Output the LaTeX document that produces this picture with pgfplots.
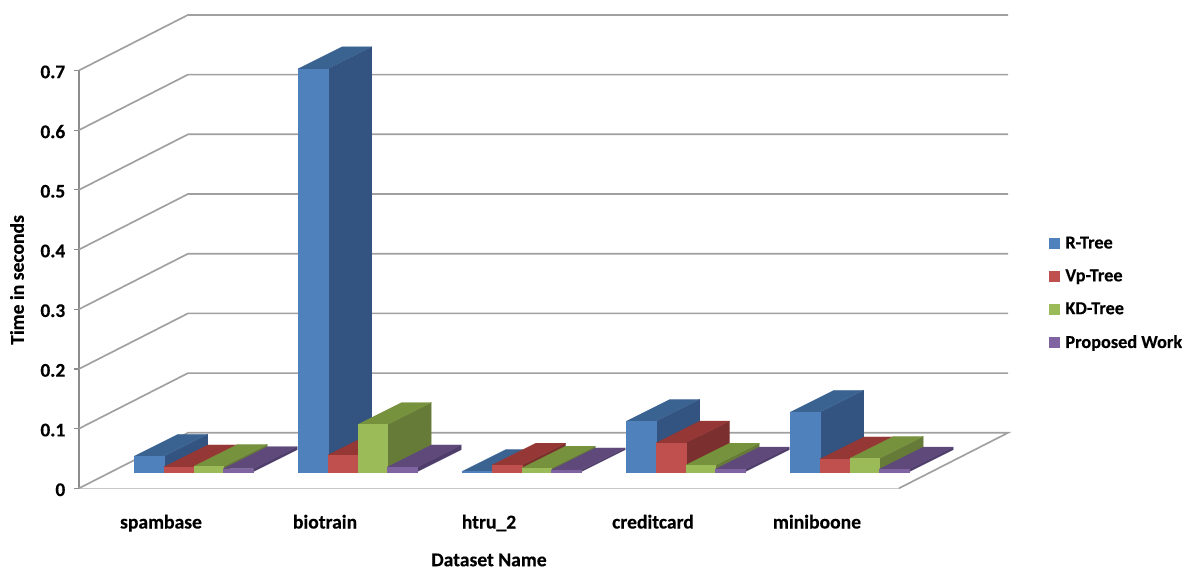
\documentclass[border=0pt]{standalone}
\usepackage{fontspec}
\setmainfont[BoldFeatures={FakeBold=0.35}]{Carlito}
\usepackage{pgfplots}
\pgfplotsset{compat=1.18}

% series colours: front, side and top faces of each bar
\definecolor{blueF}{HTML}{4F81BD}\definecolor{blueS}{HTML}{335380}\definecolor{blueT}{HTML}{3B6391}
\definecolor{redF}{HTML}{C0504D}\definecolor{redS}{HTML}{7B2F2E}\definecolor{redT}{HTML}{953735}
\definecolor{greenF}{HTML}{9BBB59}\definecolor{greenS}{HTML}{677B39}\definecolor{greenT}{HTML}{76923C}
\definecolor{purpleF}{HTML}{8064A2}\definecolor{purpleS}{HTML}{4F3D6B}\definecolor{purpleT}{HTML}{5F497A}
\definecolor{wallgrid}{HTML}{A0A0A0}
\definecolor{floorfront}{HTML}{C8C8C8}
\definecolor{axisgrey}{HTML}{8C8C8C}

% horizontal position is in drawing units, height is in seconds
\def\barwidth{29.8}
\def\depthx{44}
\def\depthy{0.03685}
\def\barbase{0.0278}

% \solidbar{left}{value}{series colour prefix}
\newcommand{\solidbar}[3]{%
  \pgfmathsetmacro\xa{#1}%
  \pgfmathsetmacro\xb{#1+\barwidth}%
  \pgfmathsetmacro\xc{#1+\depthx}%
  \pgfmathsetmacro\xd{#1+\barwidth+\depthx}%
  \pgfmathsetmacro\yb{\barbase}%
  \pgfmathsetmacro\yt{\barbase+#2}%
  \pgfmathsetmacro\ybb{\barbase+\depthy}%
  \pgfmathsetmacro\ytb{\barbase+#2+\depthy}%
  \edef\faces{%
    \noexpand\addplot[forget plot,fill=#3S,draw=#3S,line width=0.1pt] coordinates {(\xb,\yb)(\xd,\ybb)(\xd,\ytb)(\xb,\yt)} --cycle;
    \noexpand\addplot[forget plot,fill=#3T,draw=#3T,line width=0.1pt] coordinates {(\xa,\yt)(\xb,\yt)(\xd,\ytb)(\xc,\ytb)} --cycle;
    \noexpand\addplot[forget plot,fill=#3F,draw=#3F,line width=0.1pt] coordinates {(\xa,\yb)(\xb,\yb)(\xb,\yt)(\xa,\yt)} --cycle;
  }%
  \faces
}

\begin{document}
\begin{tikzpicture}
\path[use as bounding box] (-59.25pt,-60.525pt) rectangle (834.75pt,366.225pt);
\begin{axis}[
  at={(0pt,0pt)}, anchor=south west,
  scale only axis, width=615pt, height=313.4pt,
  xmin=79, xmax=899, ymin=0, ymax=0.7,
  clip=false,
  axis x line=bottom, axis y line=left,
  x axis line style={-, draw=floorfront, line width=1.2pt},
  y axis line style={-, draw=axisgrey, line width=1.4pt},
  xtick={161,325,489,653,817},
  xticklabels={spambase,biotrain,htru\_2,creditcard,miniboone},
  major x tick style={draw=none},
  xticklabel style={font=\fontsize{14.7}{16}\selectfont\bfseries, yshift=-12.5pt},
  ytick={0,0.1,0.2,0.3,0.4,0.5,0.6,0.7},
  yticklabels={0,0.1,0.2,0.3,0.4,0.5,0.6,0.7},
  y tick style={draw=axisgrey, line width=0.9pt},
  major tick length=3.8pt,
  tick align=outside,
  yticklabel style={font=\fontsize{14.5}{16}\selectfont\bfseries, xshift=-3pt, yshift=-1.1pt},
  xlabel={Dataset Name},
  xlabel style={at={(axis cs:489,-0.120)}, anchor=center, font=\fontsize{14.7}{16}\selectfont\bfseries},
  ylabel={Time in seconds},
  ylabel style={at={(axis cs:17,0.349)}, anchor=center, font=\fontsize{14.7}{16}\selectfont\bfseries},
  legend style={at={(axis cs:1049,0.4265)}, anchor=north west, draw=none, fill=none,
    font=\fontsize{13.7}{15}\selectfont\bfseries, row sep=10.25pt, inner sep=0pt},
  legend cell align=left,
  legend image code/.code={\fill[#1] (0pt,-3.7pt) rectangle (7.5pt,3.7pt); \path (9.7pt,0pt);},
]
% walls and floor
\addplot[forget plot,wallgrid,line width=1.25pt] coordinates {(79,0)(188,0.093)(1008,0.093)(899,0)};
\addplot[forget plot,wallgrid,line width=1.25pt] coordinates {(79,0.1)(188,0.193)(1008,0.193)};
\addplot[forget plot,wallgrid,line width=1.25pt] coordinates {(79,0.2)(188,0.293)(1008,0.293)};
\addplot[forget plot,wallgrid,line width=1.25pt] coordinates {(79,0.3)(188,0.393)(1008,0.393)};
\addplot[forget plot,wallgrid,line width=1.25pt] coordinates {(79,0.4)(188,0.493)(1008,0.493)};
\addplot[forget plot,wallgrid,line width=1.25pt] coordinates {(79,0.5)(188,0.593)(1008,0.593)};
\addplot[forget plot,wallgrid,line width=1.25pt] coordinates {(79,0.6)(188,0.693)(1008,0.693)};
\addplot[forget plot,wallgrid,line width=1.25pt] coordinates {(79,0.7)(188,0.793)(1008,0.793)};

% spambase
\solidbar{134}{0.0258}{blue}
\solidbar{163.8}{0.0080}{red}
\solidbar{193.6}{0.0090}{green}
\solidbar{223.4}{0.0050}{purple}
% biotrain
\solidbar{298}{0.675}{blue}
\solidbar{327.8}{0.028}{red}
\solidbar{357.6}{0.079}{green}
\solidbar{387.4}{0.008}{purple}
% htru_2
\solidbar{462}{0.0005}{blue}
\solidbar{491.8}{0.011}{red}
\solidbar{521.6}{0.0060}{green}
\solidbar{551.4}{0.0030}{purple}
% creditcard
\solidbar{626}{0.0844}{blue}
\solidbar{655.8}{0.048}{red}
\solidbar{685.6}{0.0110}{green}
\solidbar{715.4}{0.0045}{purple}
% miniboone
\solidbar{790}{0.0995}{blue}
\solidbar{819.8}{0.0213}{red}
\solidbar{849.6}{0.0224}{green}
\solidbar{879.4}{0.0045}{purple}

\addlegendimage{blueF}\addlegendentry{R-Tree}
\addlegendimage{redF}\addlegendentry{Vp-Tree}
\addlegendimage{greenF}\addlegendentry{KD-Tree}
\addlegendimage{purpleF}\addlegendentry{Proposed Work}
\end{axis}
\end{tikzpicture}
\end{document}
